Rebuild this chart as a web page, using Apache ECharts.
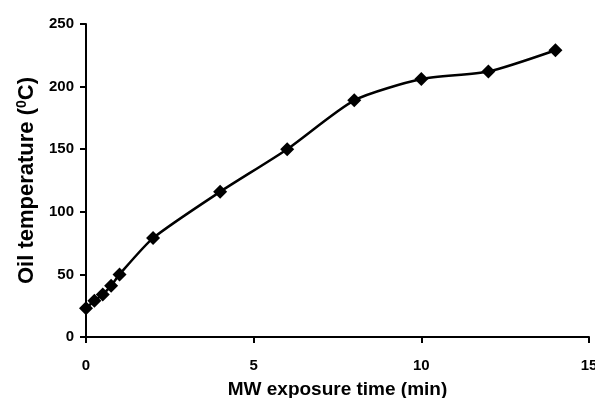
<!DOCTYPE html>
<html>
<head>
<meta charset="utf-8">
<script src="https://cdn.jsdelivr.net/npm/echarts@6/dist/echarts.min.js"></script>
<style>
html,body{margin:0;padding:0;background:#fff;}
#chart{width:595px;height:398px;}
</style>
</head>
<body>
<div id="chart"></div>
<script>
var times = [0, 0.25, 0.5, 0.75, 1, 2, 4, 6, 8, 10, 12, 14];
var temps = [23, 29, 34, 41, 50, 79, 116, 150, 189, 206, 212, 229];
var xTicks = [0, 5, 10, 15];
var yTicks = [0, 50, 100, 150, 200, 250];

var chart = echarts.init(document.getElementById('chart'));
var font = '"Liberation Sans", Arial, sans-serif';
chart.setOption({
  animation: false,
  backgroundColor: '#fff',
  grid: { left: 86, right: 6, top: 24, bottom: 61, containLabel: false, outerBoundsMode: 'none' },
  xAxis: {
    type: 'value', min: xTicks[0], max: xTicks[xTicks.length - 1], interval: 5,
    name: 'MW exposure time (min)', nameLocation: 'middle', nameGap: 43,
    nameTextStyle: { fontFamily: font, fontWeight: 'bold', fontSize: 19, color: '#000' },
    axisLine: { show: true, onZero: false, lineStyle: { color: '#000', width: 2 } },
    axisTick: { show: true, inside: false, length: 6, lineStyle: { color: '#000', width: 2 } },
    axisLabel: { fontFamily: font, fontWeight: 'bold', fontSize: 15, color: '#000', margin: 21 },
    splitLine: { show: false }
  },
  yAxis: {
    type: 'value', min: yTicks[0], max: yTicks[yTicks.length - 1], interval: 50,
    name: 'Oil temperature ({sup|0}C)', nameLocation: 'middle', nameGap: 44, nameRotate: 90,
    nameTextStyle: {
      fontFamily: font, fontWeight: 'bold', fontSize: 22, color: '#000',
      rich: { sup: { fontFamily: font, fontWeight: 'bold', fontSize: 14, color: '#000', verticalAlign: 'top', padding: [0, 0, 10, 0] } }
    },
    axisLine: { show: true, onZero: false, lineStyle: { color: '#000', width: 2 } },
    axisTick: { show: true, inside: false, length: 6, lineStyle: { color: '#000', width: 2 } },
    axisLabel: { fontFamily: font, fontWeight: 'bold', fontSize: 15, color: '#000', margin: 12 },
    splitLine: { show: false }
  },
  series: [{
    type: 'line',
    data: times.map(function (t, i) { return [t, temps[i]]; }),
    smooth: 0.22,
    symbol: 'diamond',
    symbolSize: 14,
    lineStyle: { color: '#000', width: 2.5 },
    itemStyle: { color: '#000' }
  }]
});
</script>
</body>
</html>
